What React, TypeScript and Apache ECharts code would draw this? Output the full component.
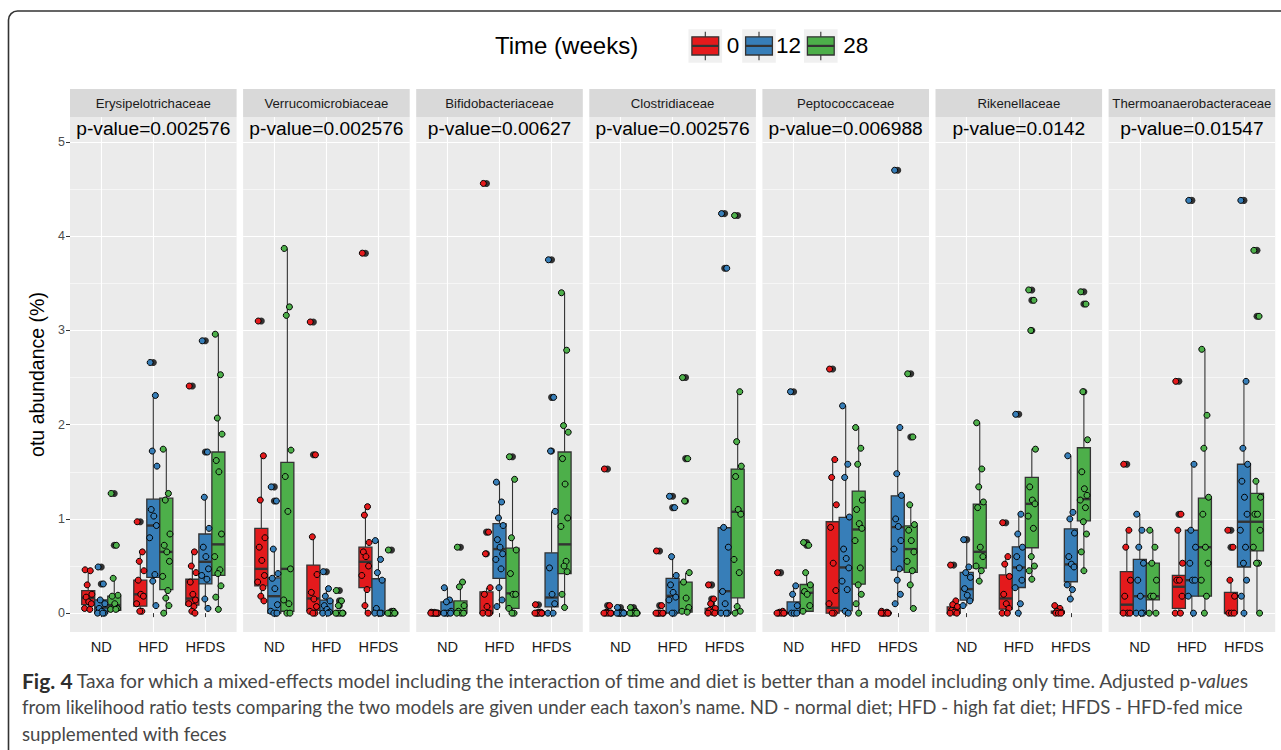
import React, { useEffect, useRef } from 'react';
import * as echarts from 'echarts';

// ---------- data ----------
const TAXA = ['Erysipelotrichaceae', 'Verrucomicrobiaceae', 'Bifidobacteriaceae', 'Clostridiaceae', 'Peptococcaceae', 'Rikenellaceae', 'Thermoanaerobacteraceae'];
const P_VALUES = ['0.002576', '0.002576', '0.00627', '0.002576', '0.006988', '0.0142', '0.01547'];
const DIETS = ['ND', 'HFD', 'HFDS'];
const TIMES = ['0', '12', '28'];
const Y_TICKS = [0, 1, 2, 3, 4, 5];
const Y_MINOR = [0.5, 1.5, 2.5, 3.5, 4.5];

// box stats per group: [lower whisker, Q1, median, Q3, upper whisker]
// order: ND-0, ND-12, ND-28, HFD-0, HFD-12, HFD-28, HFDS-0, HFDS-12, HFDS-28
const erysipelotrichaceaeBox = [
  [0.04, 0.09, 0.16, 0.24, 0.46], [0, 0, 0.06, 0.14, 0.14], [0.03, 0.03, 0.085, 0.18, 0.37],
  [0.02, 0.074, 0.2, 0.35, 0.65], [0.08, 0.38, 0.93, 1.21, 2.31], [0, 0.25, 0.65, 1.22, 1.74],
  [0, 0.085, 0.155, 0.36, 0.65], [0.05, 0.31, 0.545, 0.84, 1.23], [0.04, 0.4, 0.73, 1.71, 2.96],
];
const erysipelotrichaceaePts = [
  [0.46, 0.45, 0.3, 0.2, 0.17, 0.12, 0.1, 0.05, 0.04],
  [0.49, 0.31, 0.14, 0.1, 0.05, 0.02, 0, 0, 0],
  [1.27, 0.72, 0.37, 0.19, 0.18, 0.1, 0.05, 0.04, 0.04],
  [0.97, 0.65, 0.55, 0.45, 0.35, 0.2, 0.18, 0.1, 0.02, 0.02],
  [2.66, 2.31, 1.72, 1.56, 1.1, 1.03, 0.93, 0.8, 0.41, 0.34, 0.08],
  [1.74, 1.27, 1.2, 0.84, 0.72, 0.65, 0.55, 0.39, 0.24, 0.16, 0.08, 0],
  [2.41, 0.65, 0.5, 0.43, 0.33, 0.2, 0.14, 0.1, 0.07, 0.02, 0],
  [2.89, 1.71, 1.23, 0.9, 0.7, 0.6, 0.47, 0.4, 0.36, 0.15, 0.05],
  [2.96, 2.53, 2.07, 1.9, 1.62, 1.5, 0.84, 0.6, 0.46, 0.42, 0.29, 0.17, 0.04],
];

const verrucomicrobiaceaeBox = [
  [0.13, 0.29, 0.47, 0.9, 1.67], [0, 0, 0.18, 0.375, 0.68], [0, 0.02, 0.47, 1.6, 3.87],
  [0, 0.03, 0.156, 0.51, 0.81], [0, 0, 0.02, 0.138, 0.26], [0, 0, 0, 0, 0],
  [0, 0.27, 0.545, 0.7, 1.13], [0, 0, 0, 0.365, 0.77], [0, 0, 0, 0, 0],
];
const verrucomicrobiaceaePts = [
  [3.1, 1.67, 1.2, 0.8, 0.7, 0.56, 0.4, 0.33, 0.27, 0.18, 0.13],
  [1.34, 1.19, 0.68, 0.42, 0.37, 0.26, 0.09, 0.02, 0, 0, 0],
  [3.87, 3.25, 3.16, 1.73, 1.45, 1.08, 0.47, 0.14, 0.1, 0, 0],
  [3.09, 1.68, 0.81, 0.41, 0.22, 0.15, 0.07, 0.02, 0, 0],
  [0.44, 0.26, 0.18, 0.13, 0.08, 0.04, 0.01, 0, 0],
  [0.24, 0.13, 0.08, 0, 0, 0, 0, 0],
  [3.82, 1.13, 1.04, 0.75, 0.65, 0.6, 0.5, 0.4, 0.25, 0.08, 0],
  [0.77, 0.57, 0.43, 0.35, 0.05, 0, 0, 0, 0],
  [0.67, 0.02, 0, 0, 0, 0, 0, 0],
];

const bifidobacteriaceaeBox = [
  [0, 0, 0, 0, 0], [0, 0, 0, 0.12, 0.27], [0, 0, 0.02, 0.13, 0.33],
  [0, 0, 0, 0.226, 0.27], [0.07, 0.37, 0.68, 0.95, 1.39], [0, 0.05, 0.21, 0.69, 1.42],
  [0, 0, 0, 0, 0], [0, 0.067, 0.166, 0.64, 1.08], [0.06, 0.42, 0.73, 1.71, 3.4],
];
const bifidobacteriaceaePts = [
  [0.01, 0, 0, 0, 0, 0, 0, 0, 0],
  [0.27, 0.14, 0.12, 0.02, 0, 0, 0, 0],
  [0.7, 0.33, 0.28, 0.08, 0.02, 0, 0, 0],
  [4.56, 0.86, 0.63, 0.27, 0.2, 0.07, 0, 0, 0],
  [1.39, 1.18, 1.01, 0.93, 0.78, 0.7, 0.63, 0.57, 0.47, 0.27, 0.14, 0.07],
  [1.66, 1.42, 0.8, 0.67, 0.42, 0.2, 0.2, 0.05, 0, 0],
  [0.09, 0.01, 0, 0, 0, 0, 0, 0],
  [3.75, 2.29, 1.72, 1.08, 0.48, 0.2, 0.1, 0, 0],
  [3.4, 2.79, 1.99, 1.92, 1.64, 1.37, 1.01, 0.92, 0.55, 0.5, 0.44, 0.2, 0.06],
];

const clostridiaceaeBox = [
  [0, 0, 0, 0, 0], [0, 0, 0, 0, 0], [0, 0, 0, 0, 0],
  [0, 0, 0, 0, 0], [0, 0, 0.184, 0.368, 0.6], [0, 0.01, 0.03, 0.33, 0.43],
  [0, 0, 0.01, 0.05, 0.05], [0, 0, 0.233, 0.906, 0.91], [0, 0.163, 1.076, 1.529, 2.35],
];
const clostridiaceaePts = [
  [1.53, 0.08, 0.01, 0, 0, 0, 0, 0],
  [0.06, 0.01, 0, 0, 0, 0, 0, 0],
  [0.06, 0.02, 0, 0, 0, 0, 0, 0],
  [0.66, 0.08, 0, 0, 0, 0, 0, 0],
  [1.24, 1.12, 0.6, 0.4, 0.3, 0.22, 0.17, 0.14, 0, 0],
  [2.5, 1.64, 1.19, 0.43, 0.33, 0.16, 0.06, 0.02, 0.01],
  [0.3, 0.15, 0.1, 0.05, 0.03, 0.01, 0, 0],
  [4.24, 3.66, 0.91, 0.7, 0.23, 0.1, 0, 0, 0],
  [4.22, 2.35, 1.82, 1.56, 1.45, 1.1, 1.05, 0.57, 0.43, 0.07, 0.02, 0],
];

const peptococcaceaeBox = [
  [0, 0, 0, 0, 0.02], [0, 0, 0, 0.12, 0.29], [0.02, 0.02, 0.216, 0.304, 0.43],
  [0, 0, 0.057, 0.97, 1.63], [0, 0.025, 0.485, 1.016, 2.2], [0, 0.308, 0.888, 1.295, 1.97],
  [0, 0, 0, 0, 0.02], [0.1, 0.456, 0.913, 1.245, 1.97], [0.05, 0.432, 0.68, 0.927, 1.15],
];
const peptococcaceaePts = [
  [0.43, 0.02, 0.01, 0, 0, 0, 0, 0],
  [2.35, 0.29, 0.2, 0.08, 0, 0, 0],
  [0.75, 0.72, 0.43, 0.3, 0.23, 0.2, 0.08, 0.02],
  [2.59, 1.63, 1.44, 1.15, 0.91, 0.53, 0.24, 0.1, 0, 0],
  [2.2, 1.58, 1.44, 1.02, 0.68, 0.58, 0.48, 0.34, 0.25, 0.02, 0],
  [1.97, 1.75, 1.58, 1.2, 1.1, 0.95, 0.9, 0.77, 0.48, 0.3, 0.2, 0.1, 0],
  [0.02, 0.01, 0, 0, 0, 0, 0, 0],
  [4.7, 1.97, 1.48, 1.25, 1.0, 0.92, 0.77, 0.68, 0.47, 0.35, 0.2, 0.1],
  [2.54, 1.87, 1.15, 0.94, 0.88, 0.77, 0.65, 0.55, 0.45, 0.3, 0.05],
];

const rikenellaceaeBox = [
  [0, 0, 0.01, 0.067, 0.13], [0.078, 0.138, 0.255, 0.432, 0.775], [0.336, 0.478, 0.651, 1.157, 2.02],
  [0, 0.042, 0.156, 0.407, 0.6], [0, 0.272, 0.485, 0.704, 1.05], [0.357, 0.694, 1.16, 1.44, 1.744],
  [0, 0, 0.01, 0.02, 0.08], [0.15, 0.333, 0.517, 0.895, 1.67], [0.446, 0.98, 1.21, 1.755, 2.346],
];
const rikenellaceaePts = [
  [0.51, 0.13, 0.09, 0.07, 0.03, 0.01, 0, 0],
  [0.78, 0.49, 0.43, 0.38, 0.26, 0.19, 0.13, 0.08],
  [2.02, 1.53, 1.34, 1.18, 1.12, 0.7, 0.6, 0.5, 0.45, 0.34],
  [0.96, 0.6, 0.52, 0.39, 0.2, 0.1, 0.05, 0, 0],
  [2.11, 1.05, 0.84, 0.7, 0.6, 0.48, 0.35, 0.27, 0.1, 0],
  [3.43, 3.32, 3.0, 1.74, 1.34, 1.2, 1.16, 1.03, 0.9, 0.6, 0.5, 0.45, 0.36],
  [0.08, 0.05, 0.02, 0.01, 0, 0, 0],
  [1.67, 1.07, 1.0, 0.85, 0.6, 0.52, 0.49, 0.3, 0.25, 0.15],
  [3.41, 3.28, 2.35, 1.84, 1.5, 1.32, 1.25, 1.2, 1.12, 0.97, 0.84, 0.65, 0.45],
];

const thermoanaerobacteraceaeBox = [
  [0, 0, 0.09, 0.44, 0.88], [0, 0, 0.18, 0.57, 1.05], [0, 0.14, 0.18, 0.53, 0.88],
  [0, 0.05, 0.28, 0.4, 0.88], [0, 0.18, 0.35, 0.88, 1.58], [0, 0.18, 0.7, 1.22, 2.8],
  [0, 0, 0, 0.22, 0.35], [0, 0.49, 0.97, 1.58, 2.46], [0, 0.66, 0.97, 1.27, 1.4],
];
const thermoanaerobacteraceaePts = [
  [1.58, 0.88, 0.7, 0.35, 0.18, 0, 0, 0],
  [1.05, 0.88, 0.7, 0.53, 0.35, 0.18, 0, 0, 0],
  [0.88, 0.7, 0.53, 0.35, 0.18, 0.18, 0, 0],
  [2.46, 1.05, 0.88, 0.53, 0.35, 0.35, 0.18, 0, 0],
  [4.38, 1.58, 0.88, 0.7, 0.53, 0.35, 0.35, 0.18, 0],
  [2.8, 2.1, 1.75, 1.23, 1.05, 0.7, 0.53, 0.35, 0.18, 0],
  [0.88, 0.7, 0.35, 0.18, 0, 0, 0],
  [4.38, 2.46, 1.75, 1.58, 1.4, 1.23, 1.05, 0.88, 0.7, 0.53, 0.35, 0.18, 0],
  [3.85, 3.15, 1.4, 1.23, 1.05, 1.05, 0.88, 0.7, 0.53, 0.53, 0],
];

const BOXES = [erysipelotrichaceaeBox, verrucomicrobiaceaeBox, bifidobacteriaceaeBox, clostridiaceaeBox, peptococcaceaeBox, rikenellaceaeBox, thermoanaerobacteraceaeBox];
const POINTS = [erysipelotrichaceaePts, verrucomicrobiaceaePts, bifidobacteriaceaePts, clostridiaceaePts, peptococcaceaePts, rikenellaceaePts, thermoanaerobacteraceaePts];

const CAPTION_LEAD = 'Fig. 4';
const CAPTION_LINE1 = ' Taxa for which a mixed-effects model including the interaction of time and diet is better than a model including only time. Adjusted p-';
const CAPTION_ITALIC = 'value';
const CAPTION_TAIL = 's';
const CAPTION_LINE2 = 'from likelihood ratio tests comparing the two models are given under each taxon\u2019s name. ND - normal diet; HFD - high fat diet; HFDS - HFD-fed mice';
const CAPTION_LINE3 = 'supplemented with feces';

// ---------- style / layout ----------
const FONT = "'Liberation Sans', Arial, Helvetica, sans-serif";
const CAP_FONT = "Lato, 'Open Sans', sans-serif";
const COLORS = ['#E41A1C', '#377EB8', '#4DAF4A'];
const EDGE = '#333333';
const PANEL_LEFT = 70;
const PANEL_STEP = 173.1;
const PANEL_W = 166.6;
const GRID_TOP = 117;
const GRID_H = 515;
const Y_MIN = -0.2;
const Y_MAX = 5.265;
const DODGE = 0.25;
const BOX_HALF = 0.125;
const JITTER = [-0.06, 0.04, -0.02, 0.07, -0.04, 0.01, 0.06, -0.07, 0.03, -0.01, 0.05, -0.05, 0.0];
const CAP_SIZE = 18.7;
const CAP_SIZE_L1 = 19.25;
const CAP_COLOR = '#474747';
const CAP_RIGHT = 1248;

export default function App() {
  const ref = useRef<HTMLDivElement>(null);

  useEffect(() => {
    const chart = echarts.init(ref.current as HTMLDivElement, null, { renderer: 'svg' });
    const grids: any[] = [];
    const xAxes: any[] = [];
    const yMain: any[] = [];
    const yMinor: any[] = [];
    const series: any[] = [];
    const graphics: any[] = [];

    TAXA.forEach((taxon, i) => {
      const left = PANEL_LEFT + i * PANEL_STEP;
      grids.push({ left, top: GRID_TOP, width: PANEL_W, height: GRID_H, show: true, backgroundColor: '#EBEBEB', borderWidth: 0 });
      xAxes.push({
        type: 'value', gridIndex: i, min: 0.4, max: 3.6,
        axisLine: { show: false },
        axisTick: { show: true, customValues: [1, 2, 3], length: 4, lineStyle: { color: EDGE, width: 1 } },
        axisLabel: { show: true, customValues: [1, 2, 3], formatter: (v: number) => DIETS[Math.round(v) - 1], color: '#1A1A1A', fontSize: 14.6, fontFamily: FONT, margin: 7 },
        splitLine: { show: true, lineStyle: { color: '#FFFFFF', width: 1.1 } },
      });
      yMain.push({
        type: 'value', gridIndex: i, min: Y_MIN, max: Y_MAX,
        axisLine: { show: false },
        axisTick: { show: i === 0, customValues: Y_TICKS, length: 4, lineStyle: { color: EDGE, width: 1 } },
        axisLabel: { show: i === 0, customValues: Y_TICKS, color: '#4D4D4D', fontSize: 12.5, fontFamily: FONT, margin: 5 },
        splitLine: { show: true, lineStyle: { color: '#FFFFFF', width: 1.1 } },
        name: i === 0 ? 'otu abundance (%)' : '',
        nameLocation: 'middle', nameRotate: 90, nameGap: 23,
        nameTextStyle: { color: '#000', fontSize: 19.5, fontFamily: FONT },
      });
      yMinor.push({
        type: 'value', gridIndex: i, min: Y_MIN, max: Y_MAX, position: 'left',
        axisLine: { show: false },
        axisTick: { show: false, customValues: Y_MINOR },
        axisLabel: { show: false, customValues: Y_MINOR },
        splitLine: { show: true, lineStyle: { color: '#FFFFFF', width: 0.55 } },
      });

      const boxes = BOXES[i];
      const pts = POINTS[i];
      const boxData = boxes.map((b, g) => {
        const d = Math.floor(g / 3);
        const t = g % 3;
        return [d + 1 + (t - 1) * DODGE, b[0], b[1], b[2], b[3], b[4], t, g];
      });
      series.push({
        type: 'custom', xAxisIndex: i, yAxisIndex: i, z: 2, silent: true, clip: false,
        encode: { x: 0, y: [1, 2, 3, 4, 5] },
        data: boxData,
        renderItem: (params: any, api: any) => {
          const x = api.value(0);
          const lo = api.value(1), q1 = api.value(2), med = api.value(3), q3 = api.value(4), hi = api.value(5);
          const t = api.value(6), g = api.value(7);
          const xc = api.coord([x, med])[0];
          const yLo = api.coord([x, lo])[1];
          const yQ1 = api.coord([x, q1])[1];
          const yMed = api.coord([x, med])[1];
          const yQ3 = api.coord([x, q3])[1];
          const yHi = api.coord([x, hi])[1];
          const hw = api.size([BOX_HALF, 0])[0];
          const children: any[] = [];
          pts[g].filter((v: number) => v > hi + 1e-9 || v < lo - 1e-9).forEach((v: number) => {
            children.push({ type: 'circle', shape: { cx: xc, cy: api.coord([x, v])[1], r: 3.5 }, style: { fill: EDGE } });
          });
          children.push(
            { type: 'line', shape: { x1: xc, y1: yQ3, x2: xc, y2: yHi }, style: { stroke: EDGE, lineWidth: 1.1 } },
            { type: 'line', shape: { x1: xc, y1: yQ1, x2: xc, y2: yLo }, style: { stroke: EDGE, lineWidth: 1.1 } },
            { type: 'rect', shape: { x: xc - hw, y: yQ3, width: 2 * hw, height: Math.max(yQ1 - yQ3, 0) }, style: { fill: COLORS[t], stroke: EDGE, lineWidth: 1.3 } },
            { type: 'line', shape: { x1: xc - hw, y1: yMed, x2: xc + hw, y2: yMed }, style: { stroke: EDGE, lineWidth: 2.4 } },
          );
          return { type: 'group', children };
        },
      });

      TIMES.forEach((tm, t) => {
        const data: number[][] = [];
        DIETS.forEach((dn, d) => {
          const g = d * 3 + t;
          const xg = d + 1 + (t - 1) * DODGE;
          pts[g].forEach((v, k) => data.push([xg + JITTER[k % JITTER.length], v]));
        });
        series.push({
          type: 'scatter', name: tm, xAxisIndex: i, yAxisIndex: i, z: 3, silent: true,
          symbol: 'circle', symbolSize: 6, data,
          itemStyle: { color: COLORS[t], borderColor: '#000', borderWidth: 1, opacity: 1 },
        });
      });

      // strip + p-value
      graphics.push(
        { type: 'rect', silent: true, shape: { x: left, y: 89, width: PANEL_W, height: 28 }, style: { fill: '#D9D9D9' } },
        { type: 'text', silent: true, x: left + PANEL_W / 2, y: 103.5, style: { text: taxon, fill: '#1A1A1A', fontFamily: FONT, fontSize: 13.2, align: 'center', verticalAlign: 'middle' } },
        { type: 'text', silent: true, z: 10, x: left + PANEL_W / 2, y: 128.5, style: { text: `p-value=${P_VALUES[i]}`, fill: '#000', fontFamily: FONT, fontSize: 19.2, align: 'center', verticalAlign: 'middle' } },
      );
    });

    // legend
    const keyX = [688.5, 742.2, 804];
    const labX = [726.7, 776, 843.3];
    graphics.push({ type: 'text', silent: true, x: 495, y: 45.5, style: { text: 'Time (weeks)', fill: '#000', fontFamily: FONT, fontSize: 24, align: 'left', verticalAlign: 'middle' } });
    TIMES.forEach((tm, t) => {
      const kx = keyX[t];
      graphics.push(
        { type: 'rect', silent: true, shape: { x: kx, y: 29.3, width: 33.6, height: 33.4 }, style: { fill: '#F0F0F0' } },
        { type: 'line', silent: true, shape: { x1: kx + 16.8, y1: 31.7, x2: kx + 16.8, y2: 60.3 }, style: { stroke: EDGE, lineWidth: 1.1 } },
        { type: 'rect', silent: true, shape: { x: kx + 3.4, y: 36.8, width: 26.8, height: 18.2 }, style: { fill: COLORS[t], stroke: EDGE, lineWidth: 1.3 } },
        { type: 'line', silent: true, shape: { x1: kx + 3.4, y1: 45.9, x2: kx + 30.2, y2: 45.9 }, style: { stroke: EDGE, lineWidth: 2.2 } },
        { type: 'text', silent: true, x: labX[t], y: 45.5, style: { text: tm, fill: '#000', fontFamily: FONT, fontSize: 22.5, align: 'left', verticalAlign: 'middle' } },
      );
    });

    // caption: right-anchored first line so the italic word sits right after "p-"
    const measure = (text: string, extra: any) => {
      const el = new (echarts.graphic as any).Text({ style: { text, fontFamily: CAP_FONT, fontSize: CAP_SIZE_L1, ...extra } });
      return el.getBoundingRect().width as number;
    };
    const wItalic = measure(CAPTION_ITALIC, { fontStyle: 'italic' });
    const wTail = measure(CAPTION_TAIL, {});
    const capBase = { fill: CAP_COLOR, fontFamily: CAP_FONT, fontSize: CAP_SIZE, verticalAlign: 'middle' };
    const y1 = 680;
    graphics.push(
      { type: 'text', silent: true, x: 22, y: y1, style: { ...capBase, text: CAPTION_LEAD, fontWeight: 'bold', fontSize: 21, fill: '#2E2E2E', align: 'left' } },
      { type: 'text', silent: true, x: CAP_RIGHT - wItalic - wTail, y: y1, style: { ...capBase, fontSize: CAP_SIZE_L1, text: CAPTION_LINE1, align: 'right' } },
      { type: 'text', silent: true, x: CAP_RIGHT - wTail, y: y1, style: { ...capBase, fontSize: CAP_SIZE_L1, text: CAPTION_ITALIC, fontStyle: 'italic', align: 'right' } },
      { type: 'text', silent: true, x: CAP_RIGHT, y: y1, style: { ...capBase, fontSize: CAP_SIZE_L1, text: CAPTION_TAIL, align: 'right' } },
      { type: 'text', silent: true, x: 22, y: y1 + 27, style: { ...capBase, text: CAPTION_LINE2, align: 'left' } },
      { type: 'text', silent: true, x: 22, y: y1 + 54, style: { ...capBase, text: CAPTION_LINE3, align: 'left' } },
    );

    // frame
    graphics.push({ type: 'rect', silent: true, shape: { x: 8.5, y: 11, width: 1300, height: 800, r: 9 }, style: { fill: 'none', stroke: '#333333', lineWidth: 1.6 } });

    chart.setOption({
      animation: false,
      backgroundColor: '#FFFFFF',
      textStyle: { fontFamily: FONT },
      grid: grids,
      xAxis: xAxes,
      yAxis: [...yMain, ...yMinor],
      series,
      graphic: graphics,
    });
    return () => chart.dispose();
  }, []);

  return <div ref={ref} style={{ position: 'fixed', left: 0, top: 0, width: 1281, height: 750 }} />;
}
